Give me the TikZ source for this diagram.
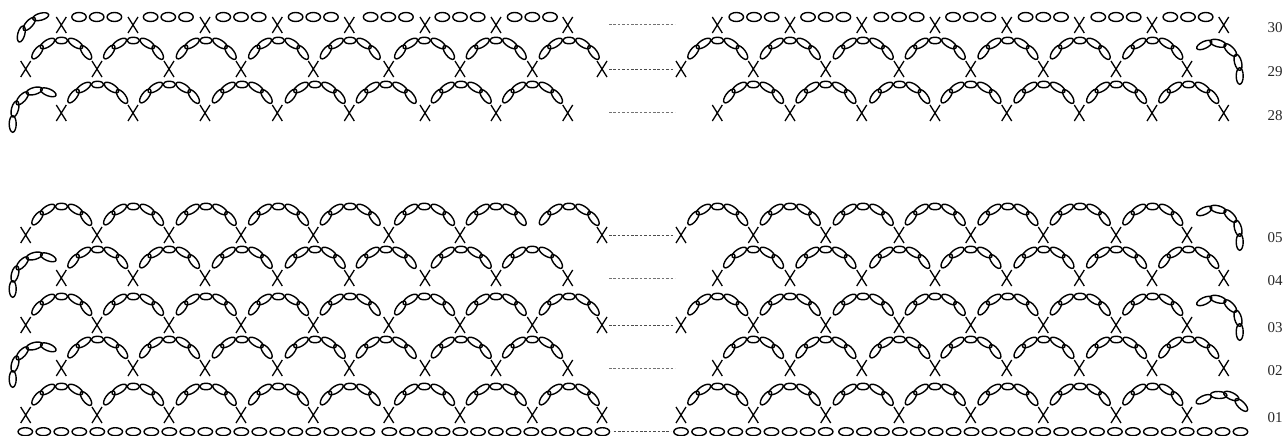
\documentclass[tikz,border=0pt]{standalone}
\usepackage{fontspec}
\setmainfont{Liberation Serif}
\usetikzlibrary{shapes.geometric,shapes.misc}
\newcommand{\oddxl}{25.7,97,169,241,313.3,388.7,460,532.3,602}
\newcommand{\oddal}{61.5,133.3,206,278.3,350,424.3,496,569}
\newcommand{\oddxr}{681,753.3,825.7,899,970.7,1043.3,1116,1187}
\newcommand{\oddar}{717.5,790,863,935,1007.7,1080,1152.5}
\newcommand{\evenxl}{61.3,133,205,277.3,349.3,425,496,567.7}
\newcommand{\evenal}{97.5,169.3,242,315,386,461,532.3}
\newcommand{\evenxr}{717.3,790,861.7,935,1006.7,1079.3,1152,1223.7}
\newcommand{\evenar}{753.3,825.7,899.5,970.7,1043.7,1116.3,1188.5}
\newcommand{\archat}[3]{
\node[loopst,rotate=53] (#1a) at ({#2-24},{#3-17}) {};
\node[loopst,rotate=32] (#1b) at ({#2-14},{#3-25.5}) {};
\node[loopst,rotate=0,minimum width=12.5pt,minimum height=6.5pt] (#1c) at ({#2},{#3-28.5}) {};
\node[loopst,rotate=-32] (#1d) at ({#2+14},{#3-25.5}) {};
\node[loopst,rotate=-53] (#1e) at ({#2+24.5},{#3-16.5}) {};
}
\newcommand{\chainat}[3]{
\node[flatst] (#1a) at ({#2-17.7},{#3-8}) {};
\node[flatst] (#1b) at ({#2},{#3-8}) {};
\node[flatst] (#1c) at ({#2+17.7},{#3-8}) {};
}
\newcommand{\leftend}[2]{
\node[loopst,rotate=90] (#1a) at (12.7,{#2+11}) {};
\node[loopst,rotate=75] (#1b) at (15,{#2-4}) {};
\node[loopst,rotate=48] (#1c) at (22.3,{#2-14.7}) {};
\node[loopst,rotate=15] (#1d) at (34.3,{#2-22}) {};
\node[loopst,rotate=-22] (#1e) at (48.3,{#2-20.7}) {};
}
\newcommand{\rightend}[2]{
\node[loopst,rotate=25] (#1a) at (1204.3,{#2-24}) {};
\node[loopst,rotate=-15] (#1b) at (1218,{#2-25.7}) {};
\node[loopst,rotate=-45] (#1c) at (1230.3,{#2-19}) {};
\node[loopst,rotate=-75] (#1d) at (1238,{#2-6.7}) {};
\node[loopst,rotate=90] (#1e) at (1239.7,{#2+7}) {};
}
\newcommand{\oddrow}[3]{
\foreach \xa [count=\n] in \oddxl {
\ifnum\n=#3\else\node[xst] (#1l\n) at (\xa,#2) {};\fi
}
\foreach \xa [count=\n] in \oddal {\archat{#1la\n}{\xa}{#2}}
\foreach \xa [count=\n] in \oddxr {\node[xst] (#1r\n) at (\xa,#2) {};}
\foreach \xa [count=\n] in \oddar {\archat{#1ra\n}{\xa}{#2}}
}
\newcommand{\evenrow}[2]{
\foreach \xa [count=\n] in \evenxl {\node[xst] (#1l\n) at (\xa,#2) {};}
\foreach \xa [count=\n] in \evenxr {\node[xst] (#1r\n) at (\xa,#2) {};}
}
\newcommand{\archrow}[2]{
\foreach \xa [count=\n] in \evenal {\archat{#1la\n}{\xa}{#2}}
\foreach \xa [count=\n] in \evenar {\archat{#1ra\n}{\xa}{#2}}
}
\begin{document}
\begin{tikzpicture}[x=1pt,y=-1pt,
xst/.style={cross out,draw=black,line width=1.3pt,minimum width=10pt,minimum height=16pt,inner sep=0pt,outer sep=0pt},
loopst/.style={ellipse,draw=black,line width=1.4pt,minimum width=16.5pt,minimum height=7pt,inner sep=0pt,outer sep=0pt},
flatst/.style={ellipse,draw=black,line width=1.4pt,minimum width=14.5pt,minimum height=9pt,inner sep=0pt,outer sep=0pt},
basest/.style={ellipse,draw=black,line width=1.4pt,minimum width=14.5pt,minimum height=8pt,inner sep=0pt,outer sep=0pt},
dashlink/.style={draw=black!70,line width=0.9pt,dash pattern=on 2.6pt off 1.8pt,shorten >=2pt,shorten <=2pt},
dashfree/.style={draw=black!55,line width=0.9pt,dash pattern=on 2.6pt off 1.8pt},
rownum/.style={font=\fontsize{15}{15}\selectfont,text=black!85,inner sep=0pt}
]
\useasboundingbox (0,0) rectangle (1287,436);
\evenrow{t}{25}
\foreach \xa [count=\n] in {96.7,168.3,241,313.3,388.3,460,532.3} {\chainat{tla\n}{\xa}{25}}
\foreach \xa [count=\n] in {754,825.7,899,970.7,1043.3,1116,1188} {\chainat{tra\n}{\xa}{25}}
\node[loopst,rotate=75] (ta) at (21.3,34) {};
\node[loopst,rotate=48] (tb) at (29.3,24) {};
\node[loopst,rotate=15] (tc) at (40.7,16.7) {};
\oddrow{s}{69}{0}
\rightend{se}{69}
\evenrow{u}{113}
\archrow{u}{113}
\leftend{ue}{113}
\oddrow{e}{235}{8}
\rightend{ee}{235}
\evenrow{d}{278}
\archrow{d}{278}
\leftend{de}{278}
\oddrow{c}{325}{0}
\rightend{ce}{325}
\evenrow{b}{368}
\archrow{b}{368}
\leftend{be}{368}
\oddrow{a}{415}{0}
\node[loopst,rotate=25] (aea) at (1203.7,399.3) {};
\node[loopst,rotate=-3] (aeb) at (1218.7,395) {};
\node[loopst,rotate=-25] (aec) at (1231.3,396) {};
\node[loopst,rotate=-45] (aed) at (1241.3,405) {};
\foreach \n [evaluate=\n as \xa using {25.3+18*(\n-1)}] in {1,...,20} {\node[basest] (fa\n) at (\xa,431.7) {};}
\foreach \n [evaluate=\n as \xa using {389.3+17.75*(\n-1)}] in {1,...,13} {\node[basest] (fb\n) at (\xa,431.7) {};}
\foreach \n [evaluate=\n as \xa using {681+18.09*(\n-1)}] in {1,...,9} {\node[basest] (fc\n) at (\xa,431.7) {};}
\foreach \n [evaluate=\n as \xa using {846+17.93*(\n-1)}] in {1,...,23} {\node[basest] (fd\n) at (\xa,431.7) {};}
\foreach \r/\yr in {t/24.7,u/112.3,d/278,b/368} {
\coordinate (\r fa) at (609,\yr);
\coordinate (\r fb) at (675,\yr);
\draw[dashfree] (\r fa) -- (\r fb);
}
\foreach \r in {s,e,c} {\draw[dashlink] (\r l9) -- (\r r1);}
\draw[dashlink,shorten >=3pt,shorten <=4pt] (fb13) -- (fc1);
\node[rownum] (n30) at (1275,27.3) {30};
\node[rownum] (n29) at (1275,71.3) {29};
\node[rownum] (n28) at (1275,115.3) {28};
\node[rownum] (n05) at (1275,237.3) {05};
\node[rownum] (n04) at (1275,280.7) {04};
\node[rownum] (n03) at (1275,327.3) {03};
\node[rownum] (n02) at (1275,370.7) {02};
\node[rownum] (n01) at (1275,417.3) {01};
\end{tikzpicture}
\end{document}
